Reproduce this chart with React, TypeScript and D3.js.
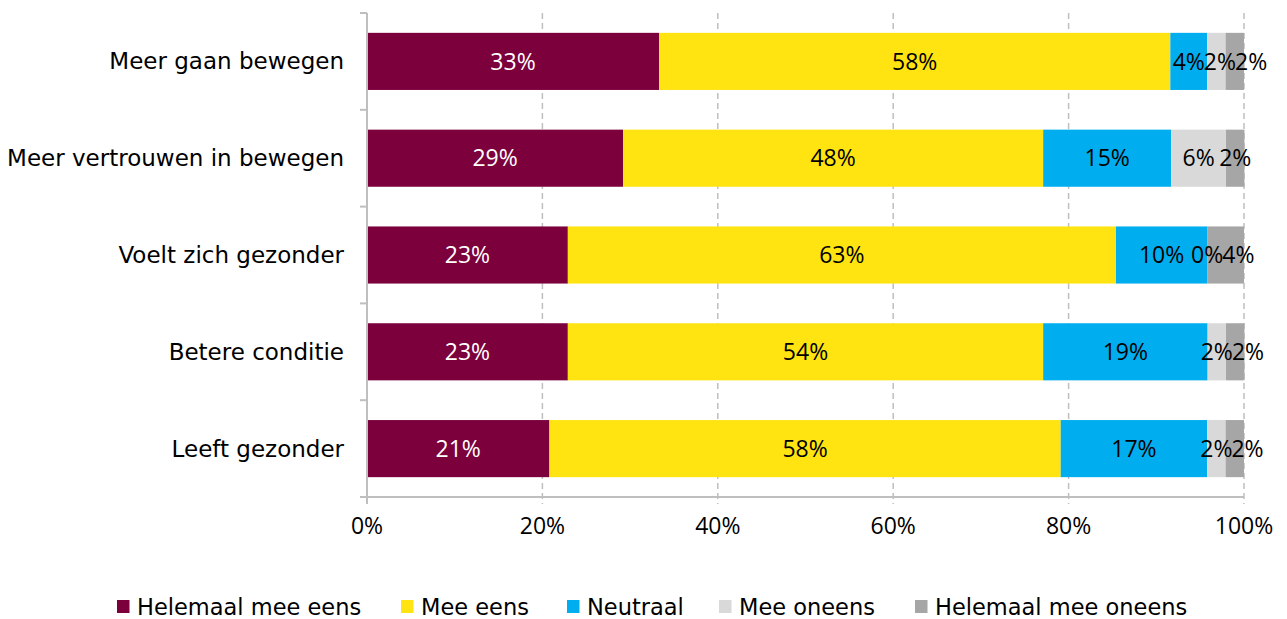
import React from "react";
import * as d3 from "d3";

const categories = [
  "Meer gaan bewegen",
  "Meer vertrouwen in bewegen",
  "Voelt zich gezonder",
  "Betere conditie",
  "Leeft gezonder",
];
const seriesNames = [
  "Helemaal mee eens",
  "Mee eens",
  "Neutraal",
  "Mee oneens",
  "Helemaal mee oneens",
];
const seriesColors = ["#7B003C", "#FFE411", "#00AEEF", "#D9D9D9", "#A6A6A6"];
const labelColors = ["#FFFFFF", "#000000", "#000000", "#000000", "#000000"];

const helemaalMeeEens = [33.3, 29.2, 22.9, 22.9, 20.8];
const meeEens = [58.3, 47.9, 62.5, 54.2, 58.3];
const neutraal = [4.2, 14.6, 10.4, 18.75, 16.7];
const meeOneens = [2.1, 6.25, 0, 2.1, 2.1];
const helemaalMeeOneens = [2.1, 2.1, 4.2, 2.1, 2.1];

const xTicks = [0, 20, 40, 60, 80, 100];

const W = 1287;
const H = 619;
const TEXT_FONT = "DejaVu Sans, sans-serif";
const NUM_FONT = "Open Sans, sans-serif";
const NUM_SIZE = 23;

let measureCtx: CanvasRenderingContext2D | null = null;
function measure(text: string): number {
  if (typeof document !== "undefined") {
    if (!measureCtx) measureCtx = document.createElement("canvas").getContext("2d");
    if (measureCtx) {
      measureCtx.font = `${NUM_SIZE}px "Open Sans", sans-serif`;
      return measureCtx.measureText(text).width;
    }
  }
  return text.length * NUM_SIZE * 0.6;
}

export default function App() {
  const x = d3.scaleLinear().domain([0, 100]).range([367, 1244]);
  const y = d3
    .scaleBand<string>()
    .domain(categories)
    .range([13, 497])
    .paddingInner(0.41)
    .paddingOuter(0.205);

  const table = categories.map((c, i) => ({
    cat: c,
    s0: helemaalMeeEens[i],
    s1: meeEens[i],
    s2: neutraal[i],
    s3: meeOneens[i],
    s4: helemaalMeeOneens[i],
  }));
  const stack = d3.stack<any>().keys(["s0", "s1", "s2", "s3", "s4"]);
  const layers = stack(table);

  // label layout: centred in segment, pushed right when overlapping previous label
  const labels: { x: number; y: number; text: string; color: string; key: string }[] = [];
  categories.forEach((c, i) => {
    let prevRight = -Infinity;
    layers.forEach((layer, si) => {
      const d = layer[i];
      const text = Math.round(d[1] - d[0]) + "%";
      const w = measure(text) - 1;
      let cx = (x(d[0]) + x(d[1])) / 2;
      if (cx - w / 2 < prevRight) cx = prevRight + w / 2;
      prevRight = cx + w / 2;
      labels.push({
        x: cx,
        y: (y(c) as number) + y.bandwidth() / 2 + 8.2,
        text,
        color: labelColors[si],
        key: si + "-" + i,
      });
    });
  });

  const axisColor = "#BFBFBF";
  const boundaries = categories.map((c) => (y(c) as number) - (y.step() * y.paddingInner()) / 2);
  boundaries.push(497);

  const legendX = [117, 401, 567, 719, 915];

  return (
    <svg
      width={W}
      height={H}
      style={{ position: "absolute", left: 0, top: 0, background: "#fff" }}
    >
      {/* gridlines */}
      {xTicks.slice(1).map((t) => (
        <line
          key={"g" + t}
          x1={x(t)}
          x2={x(t)}
          y1={13}
          y2={504}
          stroke={axisColor}
          strokeWidth={1.5}
          strokeDasharray="6,4"
        />
      ))}
      {/* bars */}
      {layers.map((layer, si) =>
        layer.map((d, i) => (
          <rect
            key={si + "-" + i}
            x={x(d[0])}
            width={Math.max(0, x(d[1]) - x(d[0]))}
            y={y(categories[i])}
            height={y.bandwidth()}
            fill={seriesColors[si]}
          />
        ))
      )}
      {/* axes */}
      <line x1={367} x2={367} y1={13} y2={497} stroke={axisColor} strokeWidth={2} />
      <line x1={360} x2={1244} y1={497} y2={497} stroke={axisColor} strokeWidth={2} />
      {boundaries.map((b, i) => (
        <line key={"t" + i} x1={360} x2={367} y1={b} y2={b} stroke={axisColor} strokeWidth={2} />
      ))}
      <line x1={367} x2={367} y1={497} y2={504} stroke={axisColor} strokeWidth={2} />
      {/* data labels */}
      {labels.map((l) => (
        <text
          key={"l" + l.key}
          x={l.x}
          y={l.y}
          textAnchor="middle"
          fontFamily={NUM_FONT}
          fontSize={NUM_SIZE}
          fill={l.color}
        >
          {l.text}
        </text>
      ))}
      {/* category labels */}
      {categories.map((c) => (
        <text
          key={"c" + c}
          x={344}
          y={(y(c) as number) + y.bandwidth() / 2 + 8}
          textAnchor="end"
          fontFamily={TEXT_FONT}
          fontSize={23}
          fill="#000"
        >
          {c}
        </text>
      ))}
      {/* x tick labels */}
      {xTicks.map((t) => (
        <text
          key={"x" + t}
          x={x(t)}
          y={534}
          textAnchor="middle"
          fontFamily={NUM_FONT}
          fontSize={NUM_SIZE}
          fill="#000"
        >
          {t + "%"}
        </text>
      ))}
      {/* legend */}
      {seriesNames.map((n, i) => (
        <g key={"lg" + n} transform={`translate(${legendX[i]},0)`}>
          <rect x={0} y={600} width={12.5} height={13} fill={seriesColors[i]} />
          <text x={20} y={614.5} fontFamily={TEXT_FONT} fontSize={22.5} fill="#000">
            {n}
          </text>
        </g>
      ))}
    </svg>
  );
}
